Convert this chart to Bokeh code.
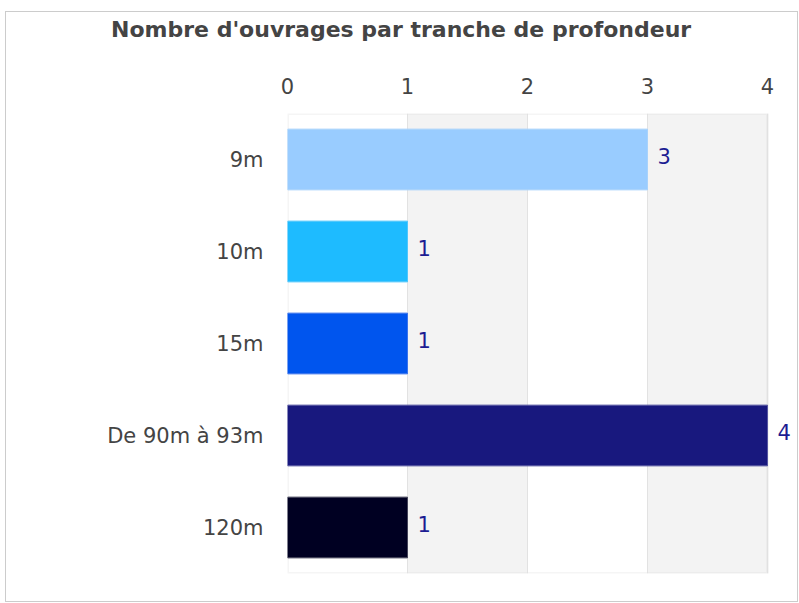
from bokeh.plotting import figure
from bokeh.layouts import column
from bokeh.models import FactorRange, Range1d, FixedTicker, LabelSet, ColumnDataSource, BoxAnnotation, Div
from bokeh.core.properties import value
from bokeh.embed import file_html
from bokeh.resources import INLINE

title = "Nombre d'ouvrages par tranche de profondeur"
categories = ["9m", "10m", "15m", "De 90m à 93m", "120m"]
counts = [3, 1, 1, 4, 1]
colors = ["#99CCFF", "#1EBBFF", "#0055EE", "#18187E", "#000022"]
outline_colors = ["#A8D2FB", "#4FC6FB", "#3A73EC", "#5555A0", "#44445A"]
x_ticks = [0, 1, 2, 3, 4]
x_max = 4

src = ColumnDataSource(dict(
    cat=categories, n=counts, fill=colors, line=outline_colors,
    lbl=[str(c) for c in counts],
))

p = figure(
    width=791, height=553,
    y_range=FactorRange(*reversed(categories)),
    x_range=Range1d(0, x_max + 0.2),
    x_axis_location="above",
    output_backend="svg", toolbar_location=None,
    min_border_left=281, min_border_right=6,
    min_border_top=65, min_border_bottom=28,
)

p.hbar(y="cat", right="n", left=0, height=0.66, fill_color="fill",
       line_color="line", line_width=1, source=src)

p.add_layout(LabelSet(x="n", y="cat", text="lbl", source=src, x_offset=10, y_offset=4,
                      text_baseline="middle", text_align="left",
                      text_font=value("DejaVu Sans"), text_font_size=value("21px"),
                      text_color="#1C1C92"))

# frame outline limited to the 0..4 value range
p.add_layout(BoxAnnotation(left=0, right=x_max, bottom=0, top=len(categories),
                           fill_color=None, line_color="#dddddd", line_width=3,
                           level="underlay"))

# axes
xa = p.xaxis[0]
xa.ticker = FixedTicker(ticks=x_ticks)
xa.axis_line_color = None
xa.major_tick_line_color = None
xa.minor_tick_line_color = None
xa.major_tick_out = 0
xa.major_tick_in = 0
xa.major_label_standoff = 20
xa.major_label_text_font = "DejaVu Sans"
xa.major_label_text_font_size = "21px"
xa.major_label_text_color = "#444444"

ya = p.yaxis[0]
ya.axis_line_color = None
ya.major_tick_line_color = None
ya.major_tick_out = 0
ya.major_tick_in = 0
ya.major_label_standoff = 24
ya.major_label_text_font = "DejaVu Sans"
ya.major_label_text_font_size = "21px"
ya.major_label_text_color = "#444444"

# grid
p.ygrid.grid_line_color = None
p.xgrid.ticker = FixedTicker(ticks=x_ticks)
p.xgrid.grid_line_color = "#e2e2e2"
p.xgrid.band_fill_color = "#f3f3f3"
p.xgrid.band_fill_alpha = 1.0
p.outline_line_color = None

head = Div(
    text=('<div style="font-family: \'DejaVu Sans\'; font-weight: bold; font-size: 22px; '
          'color: #444444; line-height: normal; white-space: nowrap; '
          'padding: 5px 0 0 105px; margin: 0;">' + title + '</div>'),
    width=791, height=36, margin=0,
)

layout = column(head, p, spacing=0)
layout.styles = {"border": "1px solid #cccccc", "margin-left": "5px", "margin-top": "11px"}

open("out.html", "w").write(file_html(layout, INLINE))
